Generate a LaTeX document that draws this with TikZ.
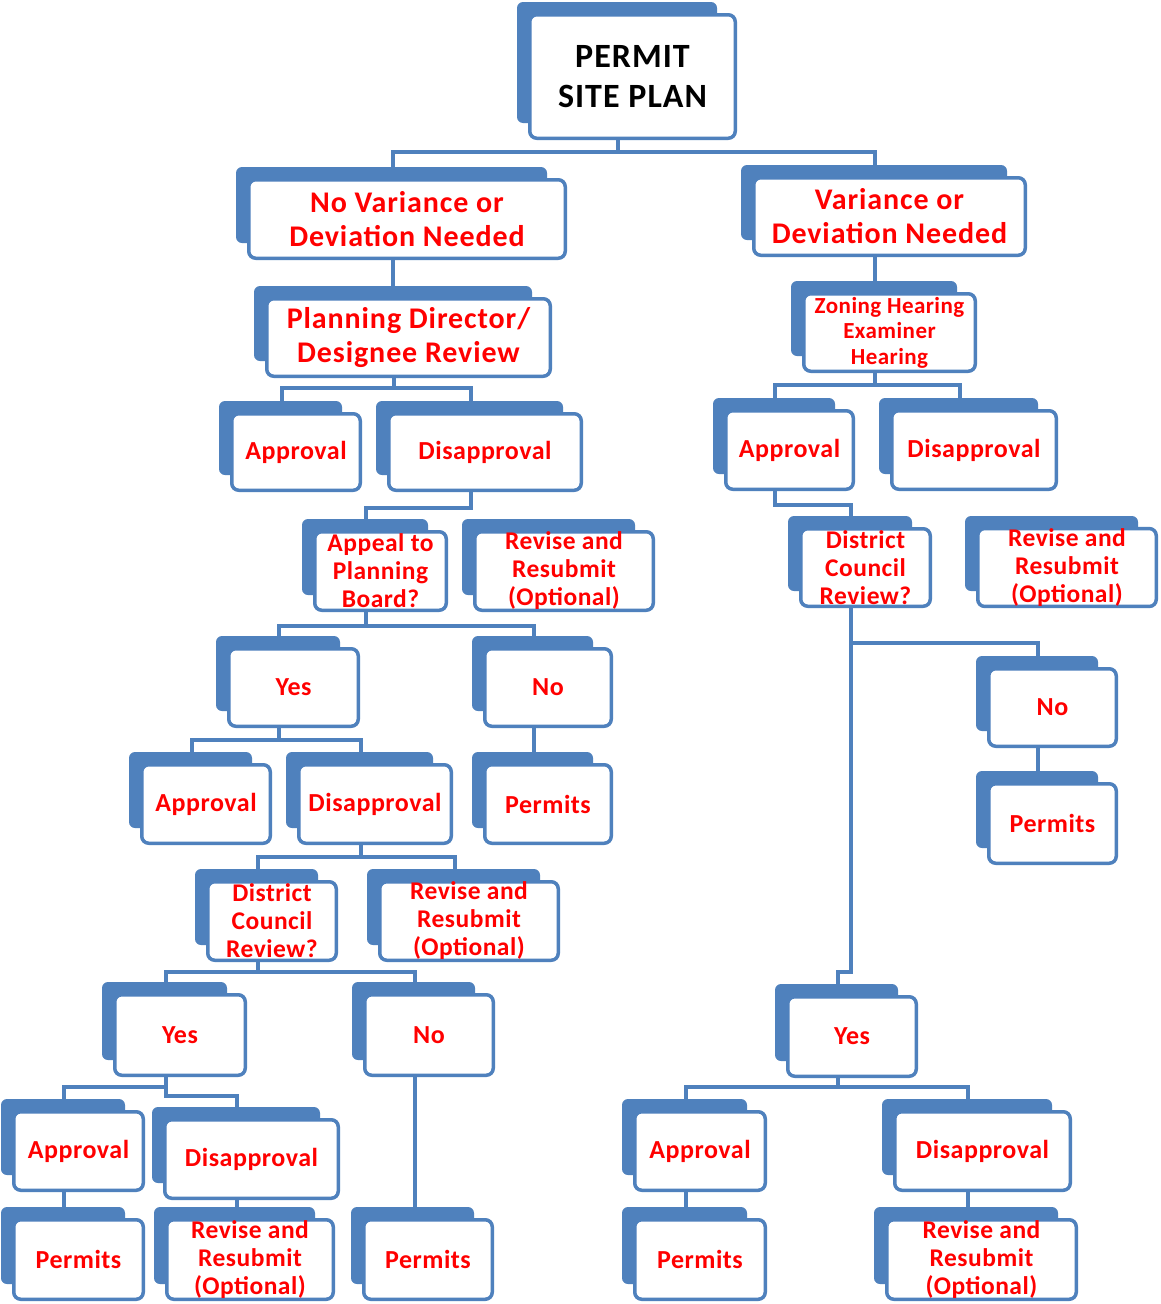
\documentclass[tikz,border=0pt]{standalone}
\usepackage{fontspec}
\setmainfont{Carlito}[LetterSpace=2]
\newfontfamily\widefont{Carlito}[LetterSpace=3]
\usetikzlibrary{backgrounds}
\definecolor{bl}{HTML}{4F81BD}
\definecolor{rd}{HTML}{FF0000}
\tikzset{
  wbox/.style={draw=bl, line width=3.5pt, fill=white, rounded corners=7pt, inner sep=0pt, align=center, text=rd, font=\bfseries\fontsize{26}{28}\selectfont},
  permstyle/.style={text=black, font=\widefont\bfseries\fontsize{34}{40}\selectfont},
  bigtxt/.style={font=\widefont\bfseries\fontsize{30}{34}\selectfont},
  smalltxt/.style={font=\bfseries\fontsize{23}{25.5}\selectfont},
  threetxt/.style={font=\bfseries\fontsize{25.5}{28}\selectfont},
  onetxt/.style={},
  conn/.style={draw=bl, line width=4pt},
}
\newcommand{\mybox}[7]{%
  \fill[bl, rounded corners=6pt] ({#2-11},{#3-11}) rectangle ({#4-20},{#5-17});
  \node[wbox,#6, minimum width={#4-#2-3.5}, minimum height={#5-#3-3.5}] (#1) at ({(#2+#4)/2},{(#3+#5)/2}) {#7};
  \coordinate (#1-t) at ([xshift=-14.5pt]#1.north);
  \coordinate (#1-b) at ([xshift=-14.5pt]#1.south);
}
\begin{document}
\begin{tikzpicture}[x=1pt,y=-1pt]
\useasboundingbox (0,0) rectangle (1160,1304);
\mybox{perm}{528}{13}{737}{140}{permstyle}{PERMIT\\SITE PLAN}
\mybox{nov}{247}{178}{567}{260}{bigtxt}{No Variance or\\Deviation Needed}
\mybox{var}{752}{176}{1027}{257}{bigtxt}{Variance or\\Deviation Needed}
\mybox{pd}{265}{297}{552}{378}{bigtxt}{Planning Director/\\Designee Review}
\mybox{zon}{802}{292}{977}{373}{smalltxt}{Zoning Hearing\\Examiner\\Hearing}
\mybox{apa}{230}{412}{362}{492}{onetxt}{Approval}
\mybox{disa}{387}{412}{583}{492}{onetxt}{Disapproval}
\mybox{apb}{724}{409}{855}{491}{onetxt}{Approval}
\mybox{disb}{890}{409}{1058}{491}{onetxt}{Disapproval}
\mybox{app}{313}{530}{448}{612}{threetxt}{Appeal to\\Planning\\Board?}
\mybox{rva}{473}{530}{655}{612}{threetxt}{Revise and\\Resubmit\\(Optional)}
\mybox{dcr}{799}{527}{932}{608}{threetxt}{District\\Council\\Review?}
\mybox{rvb}{976}{527}{1158}{608}{threetxt}{Revise and\\Resubmit\\(Optional)}
\mybox{yesa}{227}{647}{360}{728}{onetxt}{Yes}
\mybox{noa}{483}{647}{613}{728}{onetxt}{No}
\mybox{apc}{140}{763}{272}{845}{onetxt}{Approval}
\mybox{disc}{297}{763}{453}{845}{onetxt}{Disapproval}
\mybox{pra}{483}{763}{613}{845}{onetxt}{Permits}
\mybox{dcl}{206}{880}{338}{962}{threetxt}{District\\Council\\Review?}
\mybox{rvc}{378}{880}{560}{962}{threetxt}{Revise and\\Resubmit\\(Optional)}
\mybox{nob}{987}{667}{1118}{748}{onetxt}{No}
\mybox{prb}{987}{782}{1118}{865}{onetxt}{Permits}
\mybox{yesb}{113}{993}{247}{1077}{onetxt}{Yes}
\mybox{noc}{363}{993}{495}{1077}{onetxt}{No}
\mybox{yesc}{786}{995}{918}{1078}{onetxt}{Yes}
\mybox{apd}{12}{1110}{145}{1192}{onetxt}{Approval}
\mybox{disd}{163}{1118}{340}{1200}{onetxt}{Disapproval}
\mybox{ape}{633}{1110}{767}{1192}{onetxt}{Approval}
\mybox{dise}{893}{1110}{1072}{1192}{onetxt}{Disapproval}
\mybox{prd}{12}{1218}{145}{1301}{onetxt}{Permits}
\mybox{rvd}{165}{1218}{335}{1301}{threetxt}{Revise and\\Resubmit\\(Optional)}
\mybox{prc}{362}{1218}{494}{1301}{onetxt}{Permits}
\mybox{pre}{633}{1218}{767}{1301}{onetxt}{Permits}
\mybox{rve}{885}{1218}{1078}{1301}{threetxt}{Revise and\\Resubmit\\(Optional)}
\begin{pgfonlayer}{background}
\fill[white] (0,0) rectangle (1160,1304);
\draw[conn] (perm-b) -- ++(0,12) -| (nov-t);
\draw[conn] (perm-b) -- ++(0,12) -| (var-t);
\draw[conn] (nov-b) -- (nov-b |- pd-t);
\draw[conn] (var-b) -- (var-b |- zon-t);
\draw[conn] (pd-b) -- ++(0,10) -| (apa-t);
\draw[conn] (pd-b) -- ++(0,10) -| (disa-t);
\draw[conn] (zon-b) -- ++(0,12) -| (apb-t);
\draw[conn] (zon-b) -- ++(0,12) -| (disb-t);
\draw[conn] (disa-b) -- ++(0,16) -| (app-t);
\draw[conn] (apb-b) -- ++(0,14) -| (dcr-t);
\draw[conn] (app-b) -- ++(0,14) -| (yesa-t);
\draw[conn] (app-b) -- ++(0,14) -| (noa-t);
\draw[conn] (yesa-b) -- ++(0,12) -| (apc-t);
\draw[conn] (yesa-b) -- ++(0,12) -| (disc-t);
\draw[conn] (noa-b) -- (noa-b |- pra-t);
\draw[conn] (disc-b) -- ++(0,12) -| (dcl-t);
\draw[conn] (disc-b) -- ++(0,12) -| (rvc-t);
\draw[conn] (dcr-b) -- ++(0,35) -| (nob-t);
\draw[conn] (dcr-b) -- ++(0,364) -| (yesc-t);
\draw[conn] (nob-b) -- (nob-b |- prb-t);
\draw[conn] (dcl-b) -- ++(0,10) -| (yesb-t);
\draw[conn] (dcl-b) -- ++(0,10) -| (noc-t);
\draw[conn] (yesb-b) -- ++(0,10) -| (apd-t);
\draw[conn] (yesb-b) -- ++(0,19) -| (disd-t);
\draw[conn] (noc-b) -- (noc-b |- prc-t);
\draw[conn] (yesc-b) -- ++(0,9) -| (ape-t);
\draw[conn] (yesc-b) -- ++(0,9) -| (dise-t);
\draw[conn] (apd-b) -- (apd-b |- prd-t);
\draw[conn] (disd-b) -- (disd-b |- rvd-t);
\draw[conn] (ape-b) -- (ape-b |- pre-t);
\draw[conn] (dise-b) -- (dise-b |- rve-t);
\end{pgfonlayer}
\end{tikzpicture}
\end{document}
